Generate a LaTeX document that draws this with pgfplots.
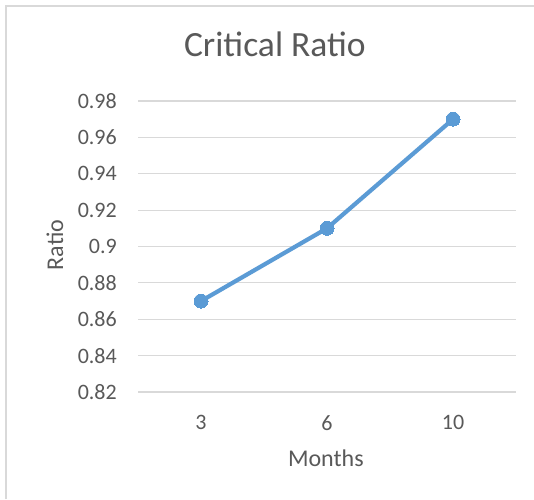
\documentclass[border=0pt]{standalone}
\usepackage{pgfplots}
\pgfplotsset{compat=1.18}
\usepackage{fontspec}
\setmainfont{Carlito}
\definecolor{txtc}{HTML}{595959}
\definecolor{gridc}{HTML}{D9D9D9}
\definecolor{linec}{HTML}{5B9BD5}
\begin{document}
\begin{tikzpicture}
\useasboundingbox (0pt,0pt) rectangle (534pt,-499pt);
\fill[white] (0pt,0pt) rectangle (534pt,-499pt);
\draw[gridc, line width=2pt] (6pt,-499pt) -- (6pt,-6pt) -- (534pt,-6pt);
\begin{axis}[
  at={(138pt,-392pt)}, anchor=south west,
  scale only axis, width=378pt, height=291pt,
  xmin=-0.5, xmax=2.5, ymin=0.82, ymax=0.98,
  xtick={0,1,2}, xticklabels={3,6,10},
  ytick={0.82,0.84,0.86,0.88,0.9,0.92,0.94,0.96,0.98},
  yticklabels={0.82,0.84,0.86,0.88,0.9,0.92,0.94,0.96,0.98},
  ymajorgrids=true, xmajorgrids=false,
  major grid style={draw=gridc, line width=1.2pt},
  axis line style={draw=none},
  major tick length=0pt,
  tick label style={font=\fontsize{22}{24}\selectfont, text=txtc, inner sep=0pt},
  yticklabel shift=21pt,
  xticklabel shift=23pt,
  title={Critical Ratio},
  title style={at={(axis description cs:0.362,1.175)}, anchor=center, font=\fontsize{35.5}{38}\selectfont, text=txtc, inner sep=0pt},
  xlabel={Months},
  xlabel style={at={(axis description cs:0.497,-0.227)}, anchor=center, font=\fontsize{24}{26}\selectfont, text=txtc, inner sep=0pt},
  ylabel={Ratio},
  ylabel style={at={(axis description cs:-0.2196,0.505)}, anchor=center, rotate=0, font=\fontsize{24}{26}\selectfont, text=txtc, inner sep=0pt},
  clip=false,
]
\addplot[color=linec, line width=4.2pt, mark=*, mark size=7pt, mark options={fill=linec, draw=linec, line width=0pt}] coordinates {(0,0.87) (1,0.91) (2,0.97)};
\end{axis}
\end{tikzpicture}
\end{document}
